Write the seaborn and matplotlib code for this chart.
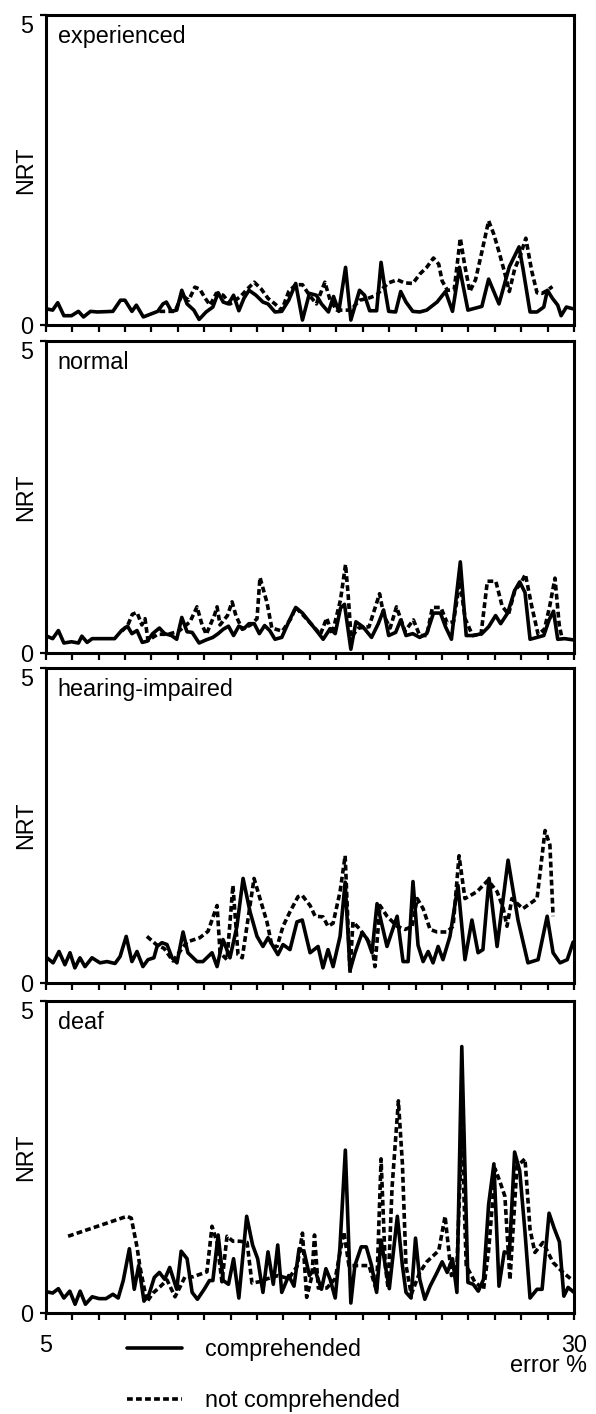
import numpy as np
import pandas as pd
import matplotlib
matplotlib.use("Agg")
import matplotlib.pyplot as plt
import seaborn as sns

# ---------------- data ----------------
groups = ["experienced", "normal", "hearing-impaired", "deaf"]
series_labels = ["comprehended", "not comprehended"]
x_range = [5, 30]
y_range = [0, 5]
x_tick_labels = ["5", "30"]
y_tick_labels = ["0", "5"]
x_label = "error %"
y_label = "NRT"

experienced_comp_x = [5.05, 5.33, 5.57, 5.86, 6.22, 6.55, 6.79, 7.12, 7.45, 8.18, 8.54, 8.75, 9.08, 9.29, 9.62,
                      10.30, 10.55, 10.71, 10.95, 11.20, 11.44, 11.69, 12.01, 12.26, 12.59, 12.91, 13.16, 13.40,
                      13.65, 13.89, 14.14, 14.38, 14.62, 14.95, 15.28, 15.52, 15.85, 16.17, 16.50, 16.83, 17.15,
                      17.48, 17.81, 18.05, 18.38, 18.62, 18.87, 19.19, 19.44, 19.85, 20.09, 20.33, 20.66, 20.87,
                      21.07, 21.23, 21.56, 21.80, 22.05, 22.37, 22.70, 23.03, 23.52, 23.92, 24.25, 24.58, 24.98,
                      25.64, 25.96, 26.45, 26.94, 27.40, 27.59, 27.92, 28.25, 28.57, 28.74, 28.98, 29.23, 29.39,
                      29.64, 29.97]
experienced_comp_y = [0.26, 0.24, 0.36, 0.15, 0.15, 0.22, 0.13, 0.22, 0.21, 0.22, 0.40, 0.40, 0.22, 0.32, 0.13,
                      0.22, 0.34, 0.37, 0.22, 0.24, 0.56, 0.34, 0.24, 0.09, 0.21, 0.29, 0.52, 0.37,
                      0.34, 0.48, 0.23, 0.43, 0.56, 0.48, 0.37, 0.34, 0.21, 0.22, 0.40, 0.67, 0.08,
                      0.51, 0.48, 0.34, 0.21, 0.46, 0.22, 0.93, 0.08, 0.56, 0.48, 0.23, 0.23, 1.01,
                      0.54, 0.22, 0.21, 0.54, 0.37, 0.22, 0.21, 0.24, 0.37, 0.54, 0.22, 0.93, 0.24,
                      0.30, 0.74, 0.34, 0.94, 1.26, 0.90, 0.21, 0.21, 0.29, 0.56, 0.43, 0.32, 0.15,
                      0.29, 0.26]
experienced_notcomp_x = [10.38, 11.12, 11.44, 11.77, 12.06, 12.29, 12.55, 12.78, 13.07, 13.40, 13.73, 14.22, 14.54,
                         14.87, 15.20, 15.52, 15.85, 16.17, 16.50, 16.83, 17.15, 17.48, 17.81, 18.21, 18.46, 18.78,
                         19.44, 19.85, 20.25, 20.66, 20.91, 21.23, 21.64, 21.97, 22.37, 22.70, 23.03, 23.35, 23.60,
                         23.76, 24.01, 24.33, 24.62, 24.82, 25.07, 25.34, 25.64, 25.96, 26.21, 26.45, 26.70, 26.94,
                         27.19, 27.46, 27.72, 28.00, 28.25, 28.49, 28.74, 28.98]
experienced_notcomp_y = [0.22, 0.22, 0.48, 0.40, 0.61, 0.58, 0.43, 0.32, 0.51, 0.48, 0.34, 0.46, 0.58,
                         0.69, 0.58, 0.43, 0.34, 0.24, 0.54, 0.65, 0.65, 0.48, 0.34, 0.69, 0.40, 0.24,
                         0.24, 0.40, 0.43, 0.48, 0.58, 0.68, 0.73, 0.68, 0.67, 0.82, 0.93, 1.08, 0.98,
                         0.71, 0.56, 0.57, 1.40, 0.98, 0.54, 0.73, 1.18, 1.68, 1.46, 1.18, 0.87, 0.54,
                         0.90, 1.12, 1.40, 0.87, 0.52, 0.51, 0.56, 0.62]

normal_comp_x = [5.05, 5.33, 5.60, 5.86, 6.22, 6.55, 6.71, 6.96, 7.20, 8.26, 8.59, 8.87, 9.08, 9.32, 9.57, 9.81,
                 10.06, 10.38, 10.63, 10.95, 11.20, 11.44, 11.69, 11.93, 12.26, 12.59, 12.91, 13.16, 13.40, 13.65,
                 13.89, 14.14, 14.38, 14.62, 14.87, 15.11, 15.36, 15.60, 15.85, 16.17, 16.50, 16.83, 17.15, 17.48,
                 17.81, 18.13, 18.46, 18.70, 18.95, 19.14, 19.44, 19.68, 20.01, 20.42, 20.74, 20.99, 21.23, 21.56,
                 21.80, 22.05, 22.37, 22.70, 23.03, 23.35, 23.68, 23.92, 24.20, 24.62, 24.90, 25.23, 25.64, 25.96,
                 26.29, 26.53, 26.86, 27.19, 27.43, 27.68, 27.92, 28.25, 28.57, 28.82, 29.03, 29.23, 29.56, 29.97]
normal_comp_y = [0.27, 0.23, 0.36, 0.16, 0.18, 0.16, 0.27, 0.17, 0.23, 0.23, 0.36, 0.43, 0.31, 0.36, 0.17, 0.19,
                 0.31, 0.40, 0.31, 0.28, 0.22, 0.57, 0.34, 0.33, 0.16, 0.21, 0.25, 0.31, 0.38, 0.43,
                 0.28, 0.43, 0.39, 0.47, 0.47, 0.31, 0.44, 0.36, 0.22, 0.25, 0.50, 0.73, 0.64, 0.50,
                 0.36, 0.22, 0.39, 0.31, 0.72, 0.78, 0.06, 0.50, 0.42, 0.25, 0.47, 0.69, 0.28, 0.33,
                 0.53, 0.28, 0.31, 0.25, 0.31, 0.64, 0.64, 0.42, 0.22, 1.46, 0.28, 0.28, 0.31, 0.42,
                 0.60, 0.47, 0.64, 1.00, 1.14, 0.97, 0.22, 0.25, 0.28, 0.53, 0.67, 0.22, 0.23, 0.21]
normal_notcomp_x = [8.6, 8.89, 9.1, 9.32, 9.55, 9.7, 9.84, 10.3, 10.8, 11.3, 11.83, 12.16, 12.4, 12.6, 13.0, 13.11,
                    13.25, 13.6, 13.82, 14.0, 14.3, 14.7, 15.0, 15.14, 15.47, 15.7, 16.2, 16.6, 16.83, 17.2, 17.6,
                    18.0, 18.3, 18.55, 18.95, 19.19, 19.32, 19.45, 19.8, 20.3, 20.8, 21.0, 21.3, 21.6, 22.0, 22.4,
                    22.7, 23.03, 23.3, 23.7, 24.0, 24.3, 24.6, 24.85, 25.2, 25.6, 25.9, 26.3, 26.6, 26.9, 27.2,
                    27.45, 27.7, 28.0, 28.3, 28.6, 28.85, 29.1, 29.3, 29.45]
normal_notcomp_y = [0.35, 0.45, 0.62, 0.65, 0.45, 0.55, 0.20, 0.30, 0.30, 0.35, 0.50, 0.74, 0.45, 0.30, 0.62, 0.74,
                    0.45, 0.60, 0.82, 0.60, 0.38, 0.45, 0.55, 1.21, 0.81, 0.40, 0.35, 0.55, 0.73, 0.60, 0.45,
                    0.30, 0.56, 0.30, 0.85, 1.42, 0.90, 0.25, 0.40, 0.42, 0.95, 0.60, 0.40, 0.74, 0.35, 0.53,
                    0.28, 0.28, 0.73, 0.73, 0.48, 0.50, 1.15, 0.55, 0.28, 0.30, 1.15, 1.15, 0.75, 0.62, 1.00,
                    1.10, 1.26, 0.75, 0.30, 0.38, 0.75, 1.20, 0.45, 0.21]

hearing_comp_x = [5.06, 5.35, 5.63, 5.91, 6.15, 6.38, 6.62, 6.86, 7.19, 7.57, 7.90, 8.28, 8.52, 8.81, 9.08, 9.32,
                  9.60, 9.84, 10.12, 10.27, 10.50, 10.74, 10.98, 11.21, 11.50, 11.73, 12.16, 12.44, 12.87, 13.11,
                  13.39, 13.72, 14.05, 14.34, 14.67, 15.00, 15.28, 15.52, 15.76, 15.99, 16.23, 16.56, 16.89, 17.14,
                  17.51, 17.89, 18.12, 18.36, 18.60, 18.93, 19.17, 19.40, 19.64, 19.97, 20.21, 20.44, 20.68, 21.15,
                  21.63, 21.91, 22.15, 22.38, 22.62, 22.86, 23.10, 23.33, 23.57, 23.80, 24.13, 24.51, 24.84, 25.17,
                  25.46, 25.69, 25.98, 26.36, 26.88, 27.35, 27.82, 28.30, 28.73, 29.01, 29.34, 29.68, 29.96]
hearing_comp_y = [0.40, 0.32, 0.50, 0.29, 0.48, 0.24, 0.40, 0.26, 0.40, 0.32, 0.34, 0.31, 0.42, 0.74, 0.34, 0.50,
                  0.26, 0.37, 0.40, 0.58, 0.64, 0.61, 0.40, 0.32, 0.81, 0.48, 0.34, 0.34, 0.48, 0.26,
                  0.69, 0.40, 0.90, 1.66, 1.13, 0.74, 0.58, 0.72, 0.58, 0.45, 0.61, 0.53, 0.97, 1.00,
                  0.48, 0.58, 0.24, 0.53, 0.26, 0.74, 1.60, 0.20, 0.48, 0.80, 0.70, 0.48, 1.26, 0.58,
                  1.06, 0.34, 0.34, 1.61, 0.60, 0.34, 0.50, 0.32, 0.58, 0.37, 0.74, 1.55, 0.37, 1.00,
                  0.48, 0.53, 1.66, 0.58, 1.95, 1.00, 0.32, 0.37, 1.06, 0.48, 0.32, 0.37, 0.65]
hearing_notcomp_x = [9.79, 10.27, 10.6, 11.02, 11.68, 12.30, 12.68, 13.11, 13.25, 13.58, 13.86, 14.1, 14.3, 14.86,
                     15.14, 15.47, 15.71, 15.95, 16.23, 16.56, 16.94, 17.14, 17.51, 17.75, 18.12, 18.36, 18.60,
                     18.93, 19.17, 19.40, 19.54, 19.88, 20.44, 20.58, 20.82, 21.15, 21.63, 22.01, 22.34, 22.58,
                     22.86, 23.19, 23.52, 23.99, 24.28, 24.56, 24.84, 25.41, 25.93, 26.36, 26.64, 26.83, 27.06,
                     27.58, 28.25, 28.63, 28.86, 29.01]
hearing_notcomp_y = [0.74, 0.60, 0.55, 0.35, 0.65, 0.72, 0.82, 1.23, 0.48, 0.37, 1.55, 0.45, 0.40, 1.66,
                     1.34, 0.97, 0.58, 0.58, 0.90, 1.13, 1.37, 1.39, 1.23, 1.06, 1.05, 0.90, 0.95,
                     1.45, 2.02, 0.16, 0.97, 0.85, 0.58, 0.26, 1.23, 1.06, 0.90, 0.85, 0.90, 1.34,
                     1.18, 0.85, 0.81, 0.81, 0.90, 2.02, 1.34, 1.45, 1.63, 1.45, 1.20, 0.90, 1.34,
                     1.18, 1.34, 2.42, 2.19, 1.06]

deaf_comp_x = [5.05, 5.33, 5.60, 5.86, 6.14, 6.39, 6.63, 6.88, 7.20, 7.53, 7.85, 8.18, 8.43, 8.67, 8.96, 9.19,
               9.40, 9.65, 9.89, 10.14, 10.38, 10.63, 10.87, 11.20, 11.41, 11.69, 11.93, 12.18, 12.50, 12.75,
               12.91, 13.16, 13.40, 13.65, 13.89, 14.14, 14.51, 14.79, 15.03, 15.28, 15.52, 15.77, 15.98, 16.17,
               16.50, 16.75, 16.99, 17.23, 17.48, 17.72, 17.89, 18.05, 18.26, 18.46, 18.70, 18.92, 19.18, 19.44,
               19.63, 19.93, 20.17, 20.42, 20.66, 20.87, 21.07, 21.26, 21.64, 21.88, 22.05, 22.29, 22.50, 22.70,
               22.94, 23.19, 23.52, 23.76, 24.00, 24.25, 24.46, 24.69, 24.98, 25.23, 25.47, 25.72, 25.96, 26.21,
               26.45, 26.70, 26.94, 27.19, 27.43, 27.68, 27.92, 28.25, 28.49, 28.82, 29.06, 29.31, 29.52, 29.72,
               30.0]
deaf_comp_y = [0.34, 0.32, 0.39, 0.24, 0.35, 0.14, 0.35, 0.14, 0.26, 0.23, 0.23, 0.30, 0.24, 0.52, 1.03, 0.38,
               0.76, 0.19, 0.30, 0.57, 0.65, 0.54, 0.73, 0.38, 0.99, 0.87, 0.33, 0.22, 0.38, 0.52,
               0.52, 1.25, 0.52, 0.46, 0.87, 0.24, 1.55, 1.09, 0.87, 0.33, 0.98, 0.46, 1.09, 0.33,
               0.60, 0.43, 1.03, 0.98, 0.60, 0.71, 0.54, 0.38, 0.71, 0.54, 0.24, 1.03, 2.61, 0.16,
               0.76, 1.06, 1.06, 0.76, 0.33, 1.17, 0.76, 0.39, 1.55, 0.76, 0.33, 0.24, 1.20, 0.54,
               0.22, 0.43, 0.65, 0.82, 0.65, 0.87, 0.33, 4.27, 0.49, 0.46, 0.35, 0.54, 1.74, 2.39,
               0.43, 0.98, 0.95, 2.58, 2.28, 1.30, 0.24, 0.38, 0.38, 1.60, 1.36, 1.14, 0.27, 0.41,
               0.33]
deaf_notcomp_x = [6.06, 8.85, 9.05, 9.32, 9.46, 9.79, 10.08, 10.41, 10.74, 11.12, 11.36, 11.59, 11.97, 12.63,
                  12.87, 13.11, 13.34, 13.58, 13.86, 14.20, 14.53, 14.76, 15.1, 15.5, 16.0, 16.5, 16.9, 17.15,
                  17.35, 17.6, 17.72, 17.9, 18.3, 18.7, 19.11, 19.35, 19.8, 20.3, 20.66, 20.87, 21.07, 21.2,
                  21.39, 21.69, 21.88, 22.05, 22.3, 22.7, 23.03, 23.6, 23.9, 24.2, 24.46, 24.69, 24.9, 25.3,
                  25.72, 25.96, 26.27, 26.5, 26.73, 26.97, 27.3, 27.68, 27.92, 28.15, 28.53, 29.01, 29.48, 29.91]
deaf_notcomp_y = [1.23, 1.55, 1.52, 1.06, 0.74, 0.18, 0.32, 0.42, 0.53, 0.26, 0.42, 0.58, 0.58, 0.66,
                  1.39, 1.13, 0.50, 1.23, 1.15, 1.15, 1.13, 0.48, 0.50, 0.55, 0.60, 0.55, 0.75, 1.28,
                  0.25, 0.60, 1.25, 0.40, 0.40, 0.55, 1.30, 0.76, 0.76, 0.76, 0.35, 2.47, 0.76, 0.40,
                  2.01, 3.40, 2.39, 0.76, 0.30, 0.65, 0.82, 1.00, 1.55, 0.60, 0.76, 2.93, 0.76, 0.50,
                  0.38, 1.00, 2.31, 2.10, 1.87, 0.53, 2.35, 2.47, 1.34, 0.97, 1.13, 0.81, 0.65, 0.53]

panel_series = {
    "experienced": (experienced_comp_x, experienced_comp_y, experienced_notcomp_x, experienced_notcomp_y),
    "normal": (normal_comp_x, normal_comp_y, normal_notcomp_x, normal_notcomp_y),
    "hearing-impaired": (hearing_comp_x, hearing_comp_y, hearing_notcomp_x, hearing_notcomp_y),
    "deaf": (deaf_comp_x, deaf_comp_y, deaf_notcomp_x, deaf_notcomp_y),
}

# ---------------- style ----------------
sns.set_theme(style="white")
plt.rcParams["font.family"] = ["Liberation Sans", "DejaVu Sans"]
plt.rcParams["text.color"] = "black"
plt.rcParams["axes.labelcolor"] = "black"
plt.rcParams["xtick.color"] = "black"
plt.rcParams["ytick.color"] = "black"
FS = 16.8
LW = 2.6

W, H = 596, 1414
fig = plt.figure(figsize=(W / 100, H / 100), dpi=100)

left_px, right_px = 45.7, 574.0
panel_px = [(15, 325), (341, 653), (668, 983), (1001, 1313)]

dash_style = (0, (1.6, 0.9))
ticks = np.arange(x_range[0], x_range[1] + 0.001, 1.25)

axes = []
for i, g in enumerate(groups):
    top, bot = panel_px[i]
    ax = fig.add_axes([left_px / W, 1 - bot / H, (right_px - left_px) / W, (bot - top) / H])
    axes.append(ax)
    cx, cy, nx, ny = panel_series[g]
    sns.lineplot(x=cx, y=cy, ax=ax, color="black", lw=LW, estimator=None,
                 label=series_labels[0], legend=False)
    sns.lineplot(x=nx, y=ny, ax=ax, color="black", lw=LW, estimator=None,
                 linestyle=dash_style, label=series_labels[1], legend=False)
    ax.set_xlim(*x_range)
    ax.set_ylim(*y_range)
    for sp in ax.spines.values():
        sp.set_linewidth(2.2)
        sp.set_color("black")
        sp.set_visible(True)
    ax.set_xticks(ticks)
    if i == len(groups) - 1:
        labs = [""] * len(ticks)
        labs[0] = x_tick_labels[0]
        labs[-1] = x_tick_labels[1]
        ax.set_xticklabels(labs)
    else:
        ax.set_xticklabels([])
    ax.set_yticks([0, 5])
    ax.set_yticklabels(y_tick_labels)
    ax.tick_params(axis="x", direction="out", length=5, width=1.6, color="black",
                   labelsize=FS, pad=10, bottom=True, labelcolor="black")
    ax.tick_params(axis="y", direction="out", length=4, width=1.6, color="black",
                   labelsize=FS, pad=5, left=True, labelcolor="black")
    ax.get_yticklabels()[1].set_va("top")
    ax.set_xlabel("")
    ax.set_ylabel(y_label, fontsize=FS, color="black")
    ax.yaxis.set_label_coords(-0.016, 0.5)
    ax.text(0.023, 1 - 28 / (bot - top), g, transform=ax.transAxes, fontsize=FS,
            ha="left", va="baseline", color="black")
    if ax.get_legend() is not None:
        ax.get_legend().remove()

fig.text(587 / W, 1 - 1372 / H, x_label, ha="right", va="baseline", fontsize=FS, color="black")

handles = axes[-1].get_lines()[:2]
fig.legend(handles, series_labels, loc="upper left", bbox_to_anchor=(127 / W, 1 - 1338 / H),
           frameon=False, fontsize=FS, handlelength=2.36, handletextpad=0.99,
           labelspacing=1.22, borderpad=0, borderaxespad=0, labelcolor="black")

fig.savefig("out.png", dpi=100)
